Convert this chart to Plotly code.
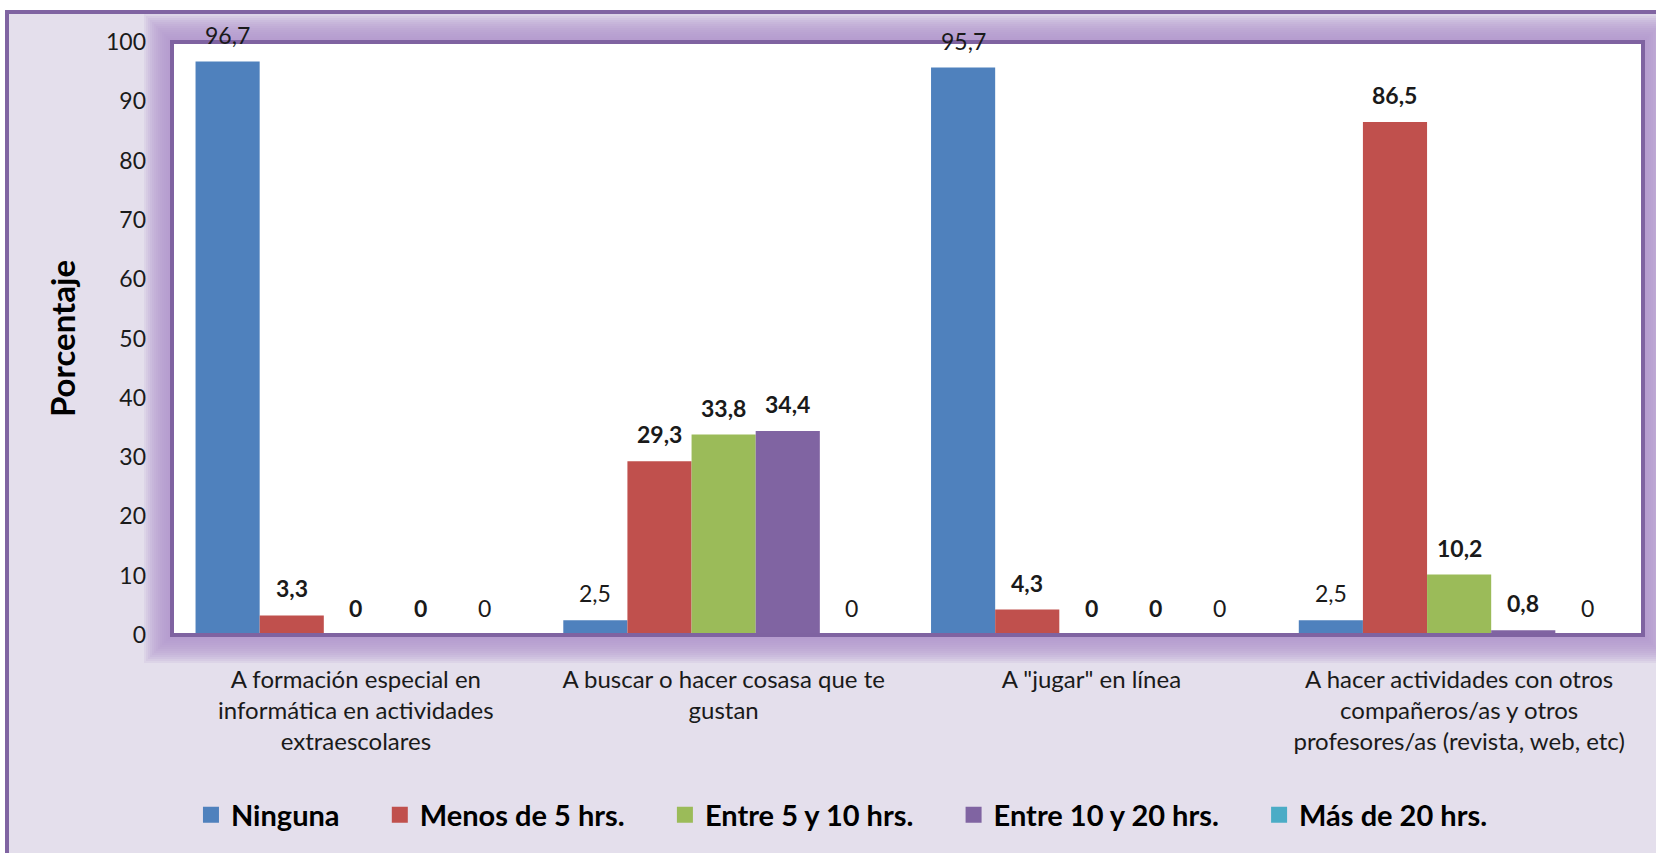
import plotly.graph_objects as go

# ---- data ----
categories = [
    "A formación especial en<br>informática en actividades<br>extraescolares",
    "A buscar o hacer cosasa que te<br>gustan",
    "A \"jugar\" en línea",
    "A hacer actividades con otros<br>compañeros/as y otros<br>profesores/as (revista, web, etc)",
]
series_names = ["Ninguna", "Menos de 5 hrs.", "Entre 5 y 10 hrs.", "Entre 10 y 20 hrs.", "Más de 20 hrs."]
ninguna = [96.7, 2.5, 95.7, 2.5]
menos_5 = [3.3, 29.3, 4.3, 86.5]
entre_5_10 = [0, 33.8, 0, 10.2]
entre_10_20 = [0, 34.4, 0, 0.8]
mas_20 = [0, 0, 0, 0]
y_ticks = [0, 10, 20, 30, 40, 50, 60, 70, 80, 90, 100]

series_values = [ninguna, menos_5, entre_5_10, entre_10_20, mas_20]

# ---- style ----
colors = ["#4F81BD", "#C0504D", "#9BBB59", "#8064A2", "#4BACC6"]
label_bold = [False, True, True, True, False]
FONT = "Lato, Calibri, sans-serif"
TEXT = "#1a1a1a"
FRAME = "#7F63A1"
BG = "#E4DFEC"
GLOW = "rgba(177,146,208,0.14)"

W, H = 1656, 853
ML, MR, MT, MB = 172, 13, 42, 218
PW, PH = W - ML - MR, H - MT - MB
BARGAP = 0.128
NSER = len(series_names)
LEGEND_PAD = "\u00a0" * 5


def fmt(v):
    return str(int(v)) if float(v).is_integer() else f"{v:.1f}".replace(".", ",")


def px_x(px):
    return (px - ML) / PW


def px_y(py):
    return (H - MB - py) / PH


fig = go.Figure()

for name, vals, col in zip(series_names, series_values, colors):
    fig.add_trace(go.Bar(
        x=categories, y=vals, name=name, marker=dict(color=col, line=dict(width=0)),
        showlegend=False, hoverinfo="x+y",
    ))

# legend entries with larger square swatches
for name, col in zip(series_names, colors):
    fig.add_trace(go.Scatter(
        x=[None], y=[None], mode="markers", name=name + LEGEND_PAD,
        marker=dict(symbol="square", size=16, color=col), showlegend=True,
    ))

# value labels above each bar
group_w = 1 - BARGAP
bar_w = group_w / NSER
annotations = []
for k, vals in enumerate(series_values):
    for i, v in enumerate(vals):
        xc = i - group_w / 2 + (k + 0.5) * bar_w
        txt = fmt(v)
        if label_bold[k]:
            txt = f"<b>{txt}</b>"
        annotations.append(dict(
            x=xc, y=v, xref="x", yref="y", text=txt, showarrow=False,
            yanchor="bottom", xanchor="center", yshift=11,
            font=dict(family=FONT, size=23, color=TEXT),
        ))

shapes = []
# outer chart frame
shapes.append(dict(
    type="rect", xref="paper", yref="paper", layer="below",
    x0=px_x(7), x1=px_x(1720), y0=px_y(920), y1=px_y(12),
    fillcolor=BG, line=dict(color="#8064A2", width=4),
))
# soft glow around the plot area
for d in range(2, 30, 2):
    shapes.append(dict(
        type="rect", xref="paper", yref="paper", layer="below",
        x0=-d / PW, x1=1 + d / PW, y0=-d / PH, y1=1 + d / PH,
        fillcolor=GLOW, line=dict(width=0),
    ))
# white plotting area
shapes.append(dict(
    type="rect", xref="paper", yref="paper", layer="below",
    x0=0, x1=1, y0=0, y1=1, fillcolor="white", line=dict(width=0),
))
# plot area border
shapes.append(dict(
    type="rect", xref="paper", yref="paper", layer="above",
    x0=0, x1=1, y0=0, y1=1, line=dict(color=FRAME, width=4),
))

fig.update_layout(
    width=W, height=H,
    margin=dict(l=ML, r=MR, t=MT, b=MB, autoexpand=False),
    paper_bgcolor="white", plot_bgcolor="rgba(0,0,0,0)",
    barmode="group", bargap=BARGAP, bargroupgap=0,
    font=dict(family=FONT, color=TEXT),
    shapes=shapes, annotations=annotations,
    legend=dict(
        orientation="h", xref="container", yref="container",
        x=0.519, xanchor="center", y=1 - 815 / H, yanchor="middle",
        font=dict(family=FONT, size=29, color="#000", weight="bold"),
        bgcolor="rgba(0,0,0,0)", itemclick=False, itemdoubleclick=False,
    ),
    showlegend=True,
)

fig.update_xaxes(
    type="category", range=[-0.5, 3.5], showgrid=False, zeroline=False, showline=False,
    ticks="", ticklabelstandoff=28, tickfont=dict(family=FONT, size=24, color=TEXT),
    automargin=False, fixedrange=True,
)
fig.update_yaxes(
    range=[0, 100], tickvals=y_ticks, ticktext=[str(t) for t in y_ticks],
    showgrid=False, zeroline=False, showline=False, ticks="", ticklabelstandoff=25,
    tickfont=dict(family=FONT, size=23, color=TEXT),
    title=dict(text="<b>Porcentaje</b>", font=dict(family=FONT, size=33, color="#000"), standoff=20),
    automargin=False, fixedrange=True,
)

fig.write_html("out.html")
